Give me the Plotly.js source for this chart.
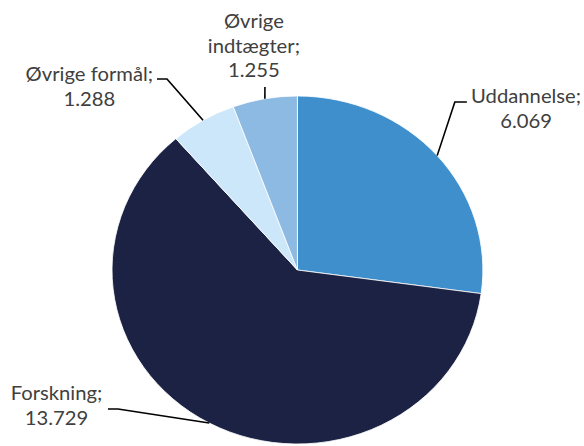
<!DOCTYPE html>
<html>
<head>
<meta charset="utf-8">
<script src="https://cdn.plot.ly/plotly-3.0.1.min.js"></script>
<style>
html,body{margin:0;padding:0;overflow:hidden;background:#fff;}
#chart{width:548px;height:446px;transform:scaleX(1.0657);transform-origin:0 0;}
</style>
</head>
<body>
<div id="chart"></div>
<script>
// Data
const labels = ["Uddannelse", "Forskning", "Øvrige formål", "Øvrige indtægter"];
const values = [6.069, 13.729, 1.288, 1.255];
const valueText = ["6.069", "13.729", "1.288", "1.255"];
const colors = ["#3F8FCD", "#1B2243", "#CCE7F9", "#8DBAE2"];

// Layout constants (pixels in unscaled plot space)
const W = 548, H = 446;
const CX = 279.1, CY = 270, R = 174;
// label text centre and leader elbow points
const labelPos = [
  {x: 493.4, y: 108.5, elbow: [[438.1, 102], [426.8, 102]]},
  {x: 53,    y: 405,   elbow: [[101.3, 409], [110.7, 409]]},
  {x: 83.5,  y: 86.5,  elbow: [[147.3, 79], [156.7, 79]]},
  {x: 238.3, y: 44.5,  elbow: [[248.6, 87]]}
];

const px = x => x / W;
const py = y => 1 - y / H;

const total = values.reduce((a, b) => a + b, 0);
let cum = 0;
const shapes = [], annotations = [];
values.forEach((v, i) => {
  const mid = (cum + v / 2) / total * 2 * Math.PI;
  cum += v;
  const ex = CX + R * Math.sin(mid);
  const ey = CY - R * Math.cos(mid);
  const pts = labelPos[i].elbow.concat([[ex, ey]]);
  const path = pts.map((p, k) => (k === 0 ? "M" : "L") + px(p[0]) + "," + py(p[1])).join(" ");
  shapes.push({type: "path", xref: "paper", yref: "paper", path: path,
               line: {color: "#000000", width: 1.5}});
  const txt = i === 3 ? "Øvrige<br>indtægter;<br>" + valueText[i]
                      : labels[i] + ";<br>" + valueText[i];
  annotations.push({xref: "paper", yref: "paper", x: px(labelPos[i].x), y: py(labelPos[i].y),
                    xanchor: "center", yanchor: "middle", align: "center",
                    showarrow: false, text: txt,
                    font: {family: "Lato, 'DejaVu Sans', sans-serif", size: 19, color: "#404040"}});
});

const trace = {
  type: "pie",
  labels: labels,
  values: values,
  sort: false,
  direction: "clockwise",
  rotation: 0,
  textinfo: "none",
  hoverinfo: "label+value",
  marker: {colors: colors, line: {color: "#ffffff", width: 0.8}},
  domain: {x: [(CX - R) / W, (CX + R) / W], y: [py(CY + R), py(CY - R)]},
  showlegend: false
};

Plotly.newPlot("chart", [trace], {
  width: W, height: H,
  margin: {l: 0, r: 0, t: 0, b: 0},
  paper_bgcolor: "#ffffff",
  showlegend: false,
  shapes: shapes,
  annotations: annotations
}, {staticPlot: true, displayModeBar: false});
</script>
</body>
</html>
